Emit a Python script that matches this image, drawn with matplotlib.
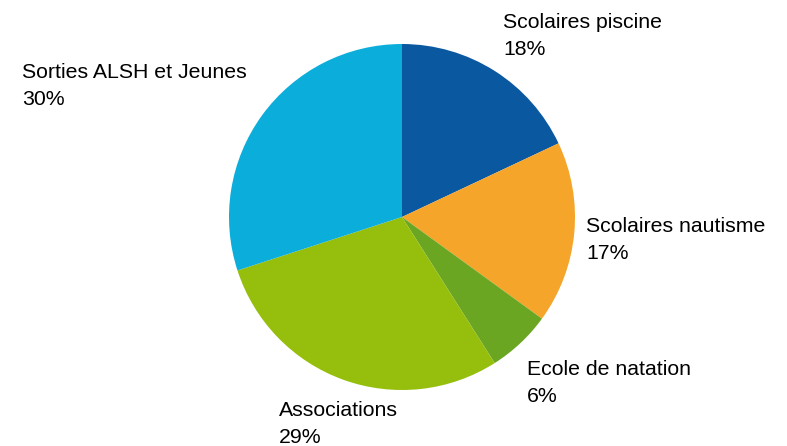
import matplotlib.pyplot as plt

# === DATA ===
categories = ["Scolaires piscine", "Scolaires nautisme", "Ecole de natation",
              "Associations", "Sorties ALSH et Jeunes"]
shares = [18, 17, 6, 29, 30]
colors = ["#0A58A0", "#F5A52A", "#6BA622", "#95BF0C", "#0BAEDB"]

# label anchor (left, first baseline) in pixels of the 787x446 image
label_px = [(503, 28), (586, 232), (527, 375), (279, 416), (22, 78)]

W, H = 787, 446
cx, cy, r = 402, 217, 173
line_gap = 27

plt.rcParams['font.family'] = ['Liberation Sans', 'DejaVu Sans']

fig = plt.figure(figsize=(W / 100, H / 100), dpi=100)
ax = fig.add_axes([0, 0, 1, 1])

ax.pie(shares, colors=colors, startangle=90, counterclock=False,
       radius=1, center=(0, 0), frame=True,
       wedgeprops=dict(linewidth=0))
ax.set_xlim(-cx / r, (W - cx) / r)
ax.set_ylim(-(H - cy) / r, cy / r)
ax.axis('off')

for name, val, (px, py) in zip(categories, shares, label_px):
    x = (px - cx) / r
    ax.text(x, (cy - py) / r, name, ha='left', va='baseline', fontsize=15.3)
    ax.text(x, (cy - py - line_gap) / r, f"{val}%", ha='left', va='baseline', fontsize=15.3)

fig.savefig("out.png", dpi=100)
